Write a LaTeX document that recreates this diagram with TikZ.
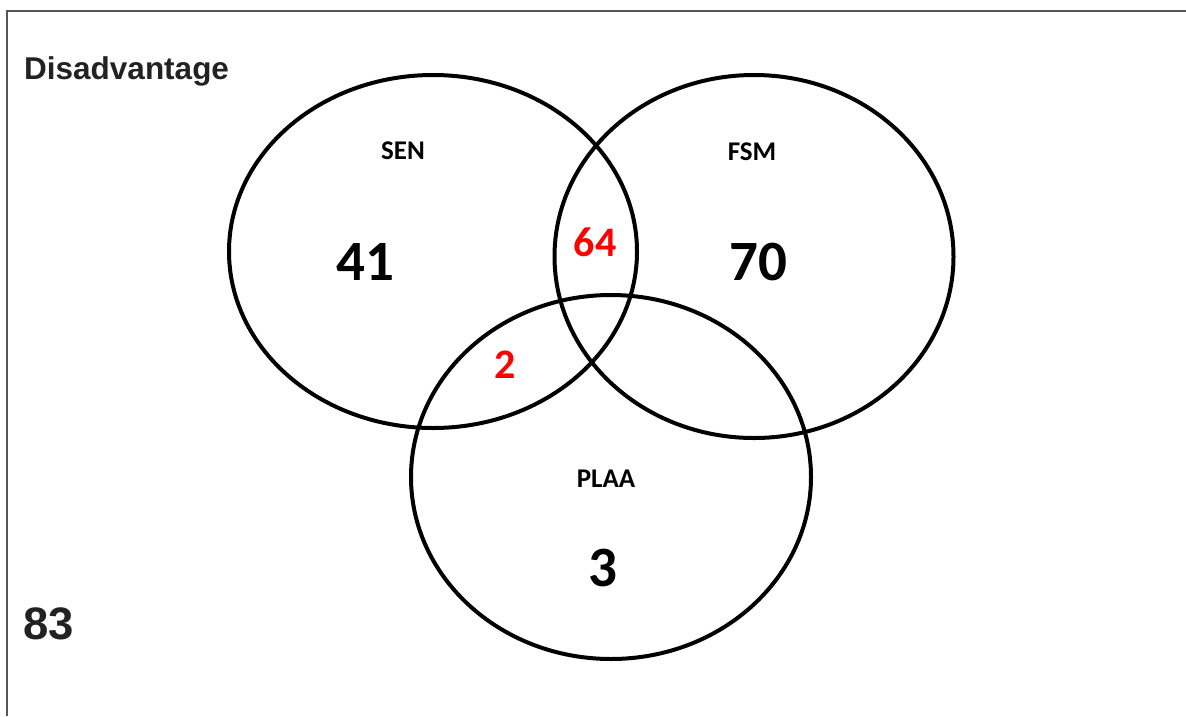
\documentclass[tikz,border=0pt]{standalone}
\usepackage{fontspec}
\newfontfamily\arialfont{Liberation Sans}
\newfontfamily\calfont{Carlito}
\begin{document}
\begin{tikzpicture}[x=1pt,y=-1pt,
  ring/.style={draw=black,line width=4pt},
  frameline/.style={draw={rgb,255:red,85;green,85;blue,85},line width=2.2pt},
  setname/.style={inner sep=0pt,font=\calfont\bfseries\fontsize{27}{27}\selectfont},
  count/.style={inner sep=0pt,font=\calfont\bfseries\fontsize{57}{57}\selectfont},
  overlap/.style={inner sep=0pt,text=red,font=\calfont\bfseries\fontsize{42}{42}\selectfont},
  heading/.style={inner sep=0pt,text={rgb,255:red,34;green,34;blue,34},font=\arialfont\bfseries\fontsize{31.5}{31.5}\selectfont}]
\useasboundingbox (0,0) rectangle (1186,716);
\fill[white] (0,0) rectangle (1186,716);
% frame: top and left edges
\coordinate (ftl) at (7,11);
\coordinate (ftr) at (1186,11);
\coordinate (fbl) at (7,716);
\draw[frameline] (ftr) -- (ftl) -- (fbl);
% the three sets
\draw[ring] (433,251.5) ellipse [x radius=204, y radius=176.5];
\draw[ring] (754,256.5) ellipse [x radius=199.5, y radius=181.5];
\draw[ring] (611,477) ellipse [x radius=200, y radius=182];
% labels and counts
\node[heading,anchor=base west] (title) at (24,79) {Disadvantage};
\node[inner sep=0pt,anchor=base west,text={rgb,255:red,34;green,34;blue,34},font=\arialfont\bfseries\fontsize{45.5}{45.5}\selectfont] (outside) at (23,639.5) {83};
\node[setname] (senlabel) at (403,151) {SEN};
\node[setname] (fsmlabel) at (752,151.5) {FSM};
\node[setname] (plaalabel) at (606,478.5) {PLAA};
\node[count] (senonly) at (365,262) {41};
\node[count] (fsmonly) at (758,262) {70};
\node[count] (plaaonly) at (603,568) {3};
\node[overlap] (senfsm) at (595,242) {64};
\node[overlap] (senplaa) at (505,364.5) {2};
\end{tikzpicture}
\end{document}
